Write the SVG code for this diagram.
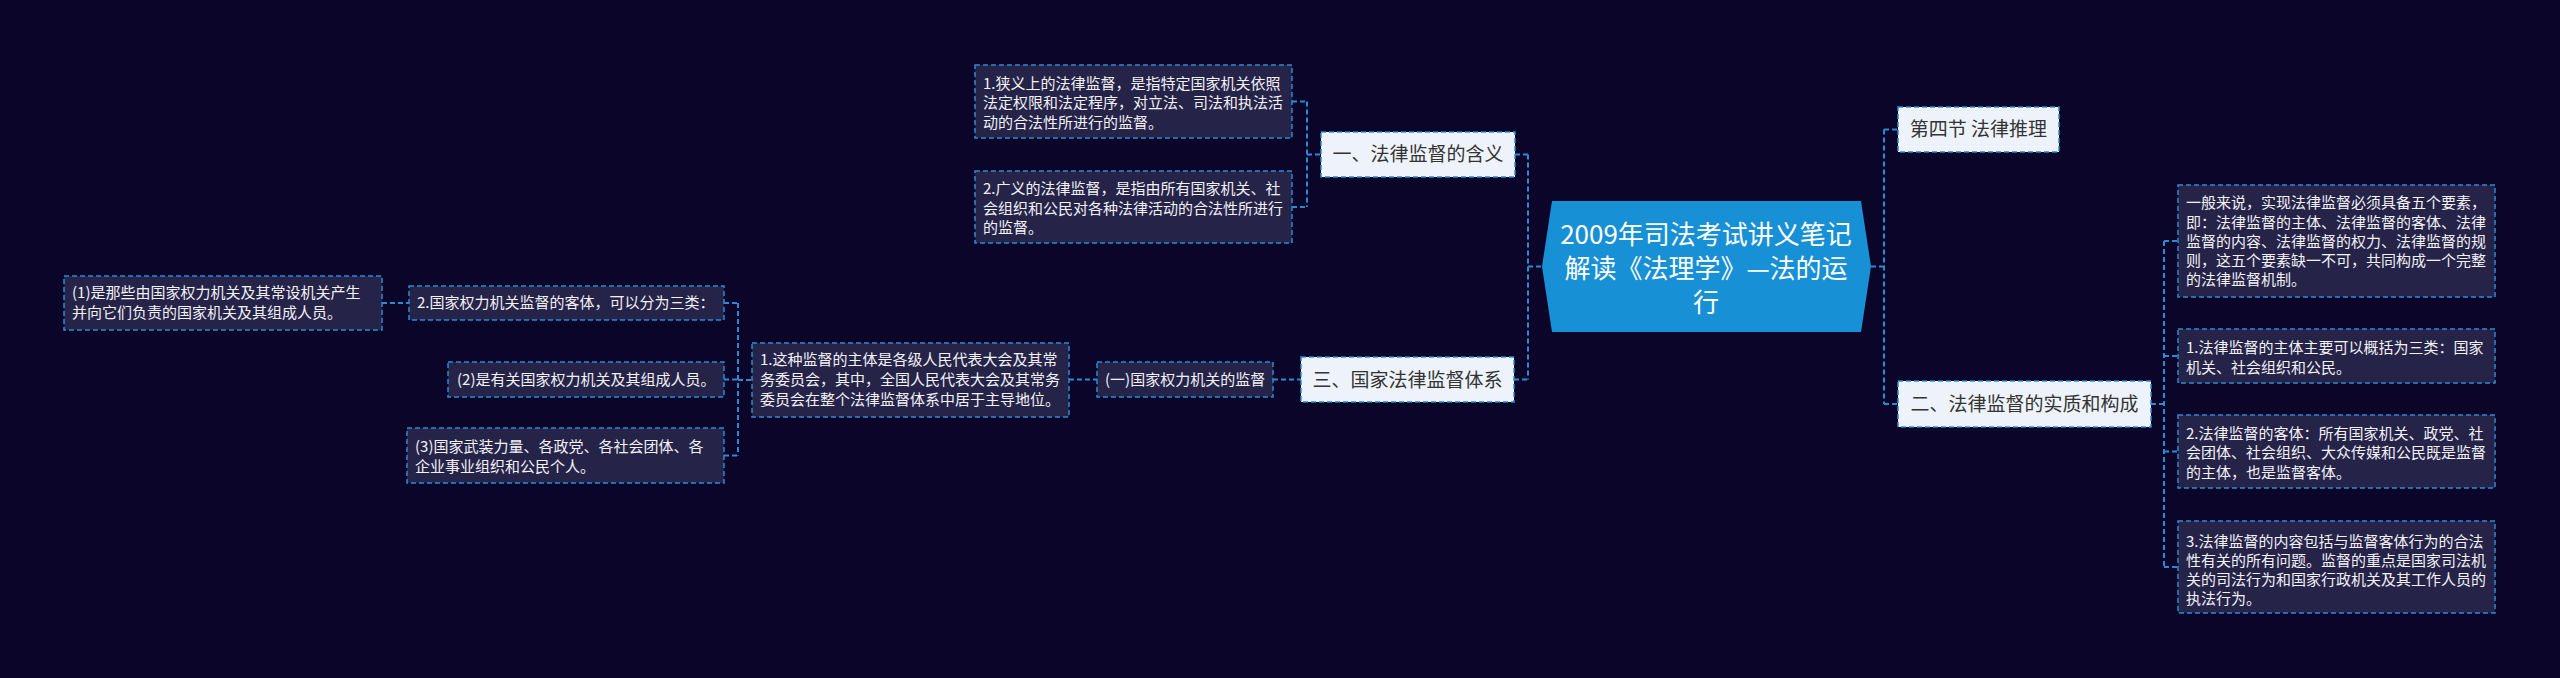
<svg xmlns="http://www.w3.org/2000/svg" width="2560" height="678" viewBox="0 0 2560 678">
<style>
.bg{fill:#0b0629}
.dk{fill:#262349;stroke:#2b8bd2;stroke-width:1.5;stroke-dasharray:5 3}
.lt{fill:#eef3fb;stroke:#2b8bd2;stroke-width:1.5;stroke-dasharray:5 3}
.ln{fill:none;stroke:#2b8bd2;stroke-width:2;stroke-dasharray:5 3}
.t{font-family:"Noto Sans CJK SC","Noto Sans",sans-serif;font-size:15px;fill:#f2f2f6}
.m{font-family:"Noto Sans CJK SC","Noto Sans",sans-serif;font-size:19px;fill:#333333;text-anchor:middle}
.c{font-family:"Noto Sans CJK SC","Noto Sans",sans-serif;font-size:26px;fill:#ffffff;text-anchor:middle}
</style>
<rect class="bg" x="0" y="0" width="2560" height="678"/>
<g id="connectors">
<path class="ln" d="M1292 101.5H1307M1292 207H1307M1307 101.5V207M1307 154.5H1321"/>
<path class="ln" d="M1515 154.5H1528M1528 154.5V379.5M1528 266.5H1542M1514 379.5H1528"/>
<path class="ln" d="M1273 379.5H1301M1069 379.5H1097"/>
<path class="ln" d="M738 380H752M738 303V455.5M724 303H738M724 379.5H738M724 455.5H738"/>
<path class="ln" d="M382 303H409"/>
<path class="ln" d="M1871 266.5H1884M1884 129.5V404M1884 129.5H1898M1884 404H1898"/>
<path class="ln" d="M2151 404H2164M2164 241V567M2164 241H2178M2164 356H2178M2164 451.5H2178M2164 567H2178"/>
</g>
<g id="center">
<polygon points="1552,201 1861,201 1871,266.5 1861,332 1552,332 1542,266.5" fill="#1890d5"/>
<text class="c" x="1706" y="244">2009年司法考试讲义笔记</text>
<text class="c" x="1706" y="278">解读《法理学》—法的运</text>
<text class="c" x="1706" y="312">行</text>
</g>
<g id="n-hanyi">
<rect class="lt" x="1321" y="132" width="194" height="45"/>
<text class="m" x="1418" y="161">一、法律监督的含义</text>
</g>
<g id="n-xiayi">
<rect class="dk" x="975" y="65" width="317" height="73"/>
<text class="t" x="983" y="88.5">1.狭义上的法律监督，是指特定国家机关依照</text>
<text class="t" x="983" y="108">法定权限和法定程序，对立法、司法和执法活</text>
<text class="t" x="983" y="127.5">动的合法性所进行的监督。</text>
</g>
<g id="n-guangyi">
<rect class="dk" x="975" y="171" width="317" height="72"/>
<text class="t" x="983" y="194">2.广义的法律监督，是指由所有国家机关、社</text>
<text class="t" x="983" y="213.5">会组织和公民对各种法律活动的合法性所进行</text>
<text class="t" x="983" y="233">的监督。</text>
</g>
<g id="n-tixi">
<rect class="lt" x="1301" y="357" width="213" height="45"/>
<text class="m" x="1407.5" y="386.5">三、国家法律监督体系</text>
</g>
<g id="n-quanli">
<rect class="dk" x="1097" y="362" width="176" height="35"/>
<text class="t" x="1105" y="385">(一)国家权力机关的监督</text>
</g>
<g id="n-zhuti">
<rect class="dk" x="752" y="343" width="317" height="74"/>
<text class="t" x="760" y="365">1.这种监督的主体是各级人民代表大会及其常</text>
<text class="t" x="760" y="385">务委员会，其中，全国人民代表大会及其常务</text>
<text class="t" x="760" y="405">委员会在整个法律监督体系中居于主导地位。</text>
</g>
<g id="n-keti">
<rect class="dk" x="409" y="286" width="315" height="34"/>
<text class="t" x="417" y="308">2.国家权力机关监督的客体，可以分为三类：</text>
</g>
<g id="n-k1">
<rect class="dk" x="64" y="276" width="318" height="54"/>
<text class="t" x="72" y="298">(1)是那些由国家权力机关及其常设机关产生</text>
<text class="t" x="72" y="318">并向它们负责的国家机关及其组成人员。</text>
</g>
<g id="n-k2">
<rect class="dk" x="448" y="362" width="276" height="35"/>
<text class="t" x="457" y="385">(2)是有关国家权力机关及其组成人员。</text>
</g>
<g id="n-k3">
<rect class="dk" x="407" y="428" width="317" height="55"/>
<text class="t" x="415" y="452">(3)国家武装力量、各政党、各社会团体、各</text>
<text class="t" x="415" y="472">企业事业组织和公民个人。</text>
</g>
<g id="n-tuili">
<rect class="lt" x="1898" y="107" width="161" height="45"/>
<text class="m" x="1978.5" y="136">第四节 法律推理</text>
</g>
<g id="n-shizhi">
<rect class="lt" x="1898" y="381" width="253" height="46"/>
<text class="m" x="2024.5" y="410.5">二、法律监督的实质和构成</text>
</g>
<g id="n-yaosu">
<rect class="dk" x="2178" y="185" width="317" height="112"/>
<text class="t" x="2186" y="208">一般来说，实现法律监督必须具备五个要素，</text>
<text class="t" x="2186" y="227.5">即：法律监督的主体、法律监督的客体、法律</text>
<text class="t" x="2186" y="246.5">监督的内容、法律监督的权力、法律监督的规</text>
<text class="t" x="2186" y="266">则，这五个要素缺一不可，共同构成一个完整</text>
<text class="t" x="2186" y="285">的法律监督机制。</text>
</g>
<g id="n-r1">
<rect class="dk" x="2178" y="329" width="317" height="54"/>
<text class="t" x="2186" y="353">1.法律监督的主体主要可以概括为三类：国家</text>
<text class="t" x="2186" y="372.5">机关、社会组织和公民。</text>
</g>
<g id="n-r2">
<rect class="dk" x="2178" y="415" width="317" height="73"/>
<text class="t" x="2186" y="438.5">2.法律监督的客体：所有国家机关、政党、社</text>
<text class="t" x="2186" y="458">会团体、社会组织、大众传媒和公民既是监督</text>
<text class="t" x="2186" y="477.5">的主体，也是监督客体。</text>
</g>
<g id="n-r3">
<rect class="dk" x="2178" y="521" width="317" height="92"/>
<text class="t" x="2186" y="547">3.法律监督的内容包括与监督客体行为的合法</text>
<text class="t" x="2186" y="566">性有关的所有问题。监督的重点是国家司法机</text>
<text class="t" x="2186" y="585">关的司法行为和国家行政机关及其工作人员的</text>
<text class="t" x="2186" y="604">执法行为。</text>
</g>
</svg>
